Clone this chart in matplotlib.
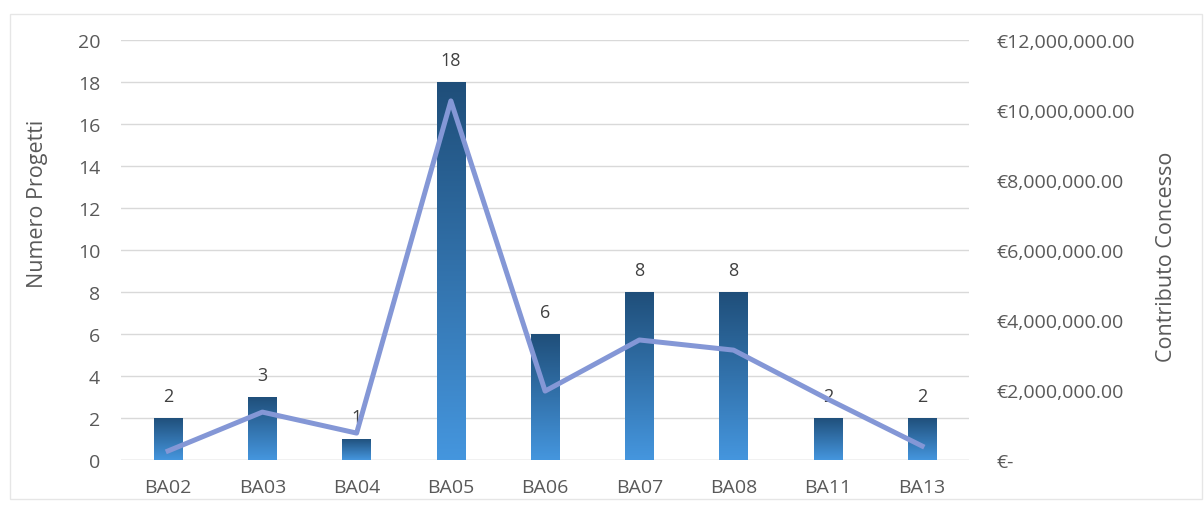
import numpy as np
import matplotlib.pyplot as plt
from matplotlib.ticker import FuncFormatter
from matplotlib.colors import LinearSegmentedColormap
from matplotlib.patches import Rectangle

plt.rcParams['font.family'] = ['Open Sans', 'DejaVu Sans']

categorie = ['BA02', 'BA03', 'BA04', 'BA05', 'BA06', 'BA07', 'BA08', 'BA11', 'BA13']
num_progetti = [2, 3, 1, 18, 6, 8, 8, 2, 2]
contributo = [260000, 1370000, 770000, 10260000, 1970000, 3430000, 3140000, 1740000, 400000]

grigio = '#595959'

fig = plt.figure(figsize=(12.04, 5.10), dpi=100)
ax1 = fig.add_axes([0.1005, 0.096, 0.7045, 0.8236])
ax2 = ax1.twinx()

x = np.arange(len(categorie))
larg = 0.3

# barre con sfumatura blu scuro -> blu chiaro
cmap = LinearSegmentedColormap.from_list('blu', ['#4596de', '#1f4e79'])
grad = np.linspace(0, 1, 256).reshape(-1, 1)
bars = ax1.bar(x, num_progetti, width=larg, color='none', zorder=2)
for b in bars:
    x0, y0 = b.get_x(), b.get_y()
    w, h = b.get_width(), b.get_height()
    im = ax1.imshow(grad, cmap=cmap, aspect='auto', origin='lower',
                    extent=[x0, x0 + w, y0, y0 + h], zorder=2)
    im.set_clip_path(b)

for xi, v in zip(x, num_progetti):
    ax1.text(xi, v + 0.6, str(v), ha='center', va='bottom', fontsize=13, color='#404040', zorder=4)

ax1.set_xlim(-0.5, len(categorie) - 0.5)
ax1.set_ylim(0, 20)
ax1.set_yticks(range(0, 21, 2))
ax1.set_xticks(x)
ax1.set_xticklabels(categorie)
ax1.grid(axis='y', color='#d9d9d9', linewidth=1, zorder=0)
ax1.set_axisbelow(True)

# linea del contributo sopra le barre
ax2.plot(x, contributo, color='#8497d6', linewidth=3.6, zorder=3)
ax2.set_ylim(0, 12000000)
ax2.set_yticks(range(0, 12000001, 2000000))


def euro(v, pos):
    if v == 0:
        return '€-'
    return '€{:,.2f}'.format(v)


ax2.yaxis.set_major_formatter(FuncFormatter(euro))

for ax in (ax1, ax2):
    for s in ax.spines.values():
        s.set_visible(False)
    ax.tick_params(length=0, labelsize=14, colors=grigio)
ax1.tick_params(axis='x', pad=13)
ax1.tick_params(axis='y', pad=15)
ax2.tick_params(axis='y', pad=20)
ax1.axhline(0, color='#d9d9d9', linewidth=1, zorder=1)

fig.text(38 / 1204, 1 - 204 / 510, 'Numero Progetti', rotation=90, ha='center', va='center',
         fontsize=15.5, color=grigio)
fig.text(1167 / 1204, 1 - 257 / 510, 'Contributo Concesso', rotation=90, ha='center', va='center',
         fontsize=15.5, color=grigio)

fig.patches.append(Rectangle((0.008, 0.02), 0.99, 0.95, transform=fig.transFigure,
                             fill=False, edgecolor='#e6e6e6', linewidth=1))

fig.savefig('out.png', dpi=100)
